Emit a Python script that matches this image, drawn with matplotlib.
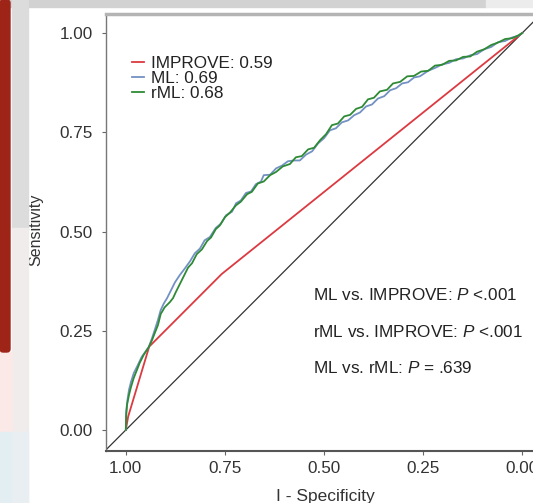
import numpy as np
import matplotlib
matplotlib.use("Agg")
import matplotlib.pyplot as plt
from matplotlib.patches import Rectangle, FancyBboxPatch

plt.rcParams['font.family'] = ['Liberation Sans', 'DejaVu Sans']
plt.rcParams['mathtext.fontset'] = 'custom'
plt.rcParams['mathtext.it'] = 'Liberation Sans:italic'
plt.rcParams['mathtext.rm'] = 'Liberation Sans'

# IMPROVE score ROC (specificity, sensitivity)
improve_spec = [1.000, 0.994, 0.941, 0.758, 0.000]
improve_sens = [0.000, 0.034, 0.210, 0.393, 1.000]

# rML ROC
rml_spec = [1.000, 0.999, 0.997, 0.992, 0.987, 0.980, 0.972, 0.965, 0.955, 0.942,
            0.934, 0.927, 0.919, 0.912, 0.902, 0.889, 0.881, 0.874, 0.864, 0.854,
            0.843, 0.833, 0.821, 0.808, 0.795, 0.785, 0.773, 0.763, 0.750, 0.737,
            0.722, 0.710, 0.694, 0.682, 0.667, 0.652, 0.636, 0.621, 0.604, 0.586,
            0.571, 0.556, 0.540, 0.525, 0.510, 0.495, 0.480, 0.465, 0.449, 0.434,
            0.419, 0.404, 0.389, 0.374, 0.359, 0.341, 0.326, 0.308, 0.290, 0.273,
            0.255, 0.237, 0.220, 0.202, 0.184, 0.167, 0.149, 0.131, 0.114, 0.096,
            0.078, 0.061, 0.043, 0.025, 0.010, 0.000]
rml_sens = [0.000, 0.038, 0.063, 0.088, 0.108, 0.131, 0.151, 0.169, 0.189, 0.209,
            0.226, 0.244, 0.264, 0.292, 0.309, 0.322, 0.332, 0.347, 0.367, 0.387,
            0.409, 0.420, 0.443, 0.455, 0.476, 0.485, 0.506, 0.515, 0.536, 0.548,
            0.566, 0.575, 0.594, 0.600, 0.621, 0.626, 0.642, 0.650, 0.664, 0.670,
            0.687, 0.690, 0.707, 0.711, 0.730, 0.745, 0.768, 0.772, 0.790, 0.794,
            0.809, 0.814, 0.833, 0.837, 0.853, 0.857, 0.873, 0.877, 0.891, 0.892,
            0.903, 0.905, 0.918, 0.920, 0.930, 0.931, 0.940, 0.941, 0.953, 0.959,
            0.970, 0.976, 0.985, 0.987, 0.994, 1.000]

# ML ROC
ml_spec = [1.000, 0.999, 0.996, 0.992, 0.987, 0.980, 0.970, 0.960, 0.942, 0.934,
           0.927, 0.919, 0.912, 0.904, 0.896, 0.886, 0.876, 0.864, 0.851, 0.838,
           0.826, 0.813, 0.801, 0.788, 0.773, 0.760, 0.747, 0.732, 0.722, 0.710,
           0.697, 0.684, 0.672, 0.659, 0.652, 0.636, 0.621, 0.606, 0.591, 0.576,
           0.561, 0.545, 0.530, 0.515, 0.500, 0.485, 0.470, 0.455, 0.439, 0.424,
           0.409, 0.394, 0.379, 0.364, 0.348, 0.333, 0.318, 0.303, 0.288, 0.273,
           0.258, 0.237, 0.220, 0.202, 0.184, 0.167, 0.149, 0.131, 0.114, 0.096,
           0.078, 0.061, 0.043, 0.025, 0.010, 0.000]
ml_sens = [0.000, 0.045, 0.075, 0.101, 0.121, 0.143, 0.163, 0.184, 0.209, 0.231,
           0.252, 0.277, 0.302, 0.319, 0.332, 0.352, 0.372, 0.390, 0.407, 0.425,
           0.445, 0.457, 0.478, 0.486, 0.509, 0.520, 0.541, 0.550, 0.571, 0.578,
           0.597, 0.601, 0.619, 0.626, 0.642, 0.643, 0.659, 0.666, 0.677, 0.679,
           0.679, 0.694, 0.702, 0.722, 0.735, 0.755, 0.760, 0.775, 0.780, 0.793,
           0.800, 0.815, 0.820, 0.835, 0.841, 0.856, 0.861, 0.873, 0.876, 0.888,
           0.891, 0.905, 0.912, 0.921, 0.925, 0.934, 0.936, 0.944, 0.947, 0.959,
           0.965, 0.977, 0.980, 0.989, 0.993, 1.000]

labels = ['IMPROVE: 0.59', 'ML: 0.69', 'rML: 0.68']
pvals = ['ML vs. IMPROVE: $P$ <.001', 'rML vs. IMPROVE: $P$ <.001', 'ML vs. rML: $P$ = .639']

W, H = 533, 503
fig = plt.figure(figsize=(W / 100, H / 100), dpi=100)
fig.patch.set_facecolor('white')

# page decorations around the screenshot
def px_rect(x, y, w, h, color):
    fig.patches.append(Rectangle((x / W, 1 - (y + h) / H), w / W, h / H,
                                 transform=fig.transFigure, color=color, zorder=0))

px_rect(0, 0, 486, 7, '#d2d2d2')
px_rect(486, 0, 47, 7, '#ececec')
px_rect(12, 0, 16, 228, '#dcdcdc')
px_rect(12, 228, 16, 275, '#f1ecec')
px_rect(0, 352, 12, 80, '#fbe9e7')
px_rect(0, 432, 12, 71, '#e3eef3')
px_rect(12, 432, 16, 71, '#e8eef2')
fig.patches.append(FancyBboxPatch((0, 1 - 352 / H), 10 / W, 352 / H,
                                  boxstyle='round,pad=0,rounding_size=0.006',
                                  transform=fig.transFigure, color='#9f2418', zorder=1))

ax = fig.add_axes([106 / W, (H - 451) / H, 436 / W, 437 / H])
ax.set_xlim(1.05, -0.05)
ax.set_ylim(-0.053, 1.048)

ax.axline((1, 0), (0, 1), color='#333333', lw=0.9, zorder=1)
ax.plot(improve_spec, improve_sens, color='#dc3a40', lw=1.3, label=labels[0], zorder=2)
ax.plot(ml_spec, ml_sens, color='#7391c2', lw=1.3, label=labels[1], zorder=3)
ax.plot(rml_spec, rml_sens, color='#2f8a35', lw=1.3, label=labels[2], zorder=4)

ticks = [1.00, 0.75, 0.50, 0.25, 0.00]
ax.set_xticks(ticks)
ax.set_xticklabels(['1.00', '0.75', '0.50', '0.25', '0.00'])
ax.set_yticks(ticks)
ax.set_yticklabels(['1.00', '0.75', '0.50', '0.25', '0.00'])
ax.tick_params(axis='both', direction='out', length=3, width=0.8, color='#666666',
               labelcolor='#333333', labelsize=12.3)
ax.tick_params(axis='y', pad=6.5)
ax.tick_params(axis='x', pad=4.5)

ax.spines['right'].set_visible(False)
ax.spines['top'].set_color('#b4b4b4')
ax.spines['top'].set_linewidth(2.5)
ax.spines['left'].set_color('#777777')
ax.spines['left'].set_linewidth(1.0)
ax.spines['bottom'].set_color('#555555')
ax.spines['bottom'].set_linewidth(1.5)

ax.set_ylabel('Sensitivity', fontsize=11.5, color='#333333', va='center')
ax.yaxis.set_label_coords((36 - 106) / 436, (451 - 230) / 437)
ax.set_xlabel('I - Specificity', fontsize=12.5, color='#333333', va='center')
ax.xaxis.set_label_coords((325 - 106) / 436, (451 - 497) / 437)

leg = ax.legend(loc='upper left', bbox_to_anchor=(0.059, 0.905), frameon=False,
                fontsize=12.3, handlelength=0.7, handletextpad=0.45,
                labelspacing=0.02, borderpad=0, borderaxespad=0)
for t in leg.get_texts():
    t.set_color('#222222')

for txt, yv in zip(pvals, [0.340, 0.246, 0.156]):
    ax.text(0.528, yv, txt, fontsize=12.3, color='#222222', va='center', ha='left')

fig.savefig('out.png', dpi=100)
